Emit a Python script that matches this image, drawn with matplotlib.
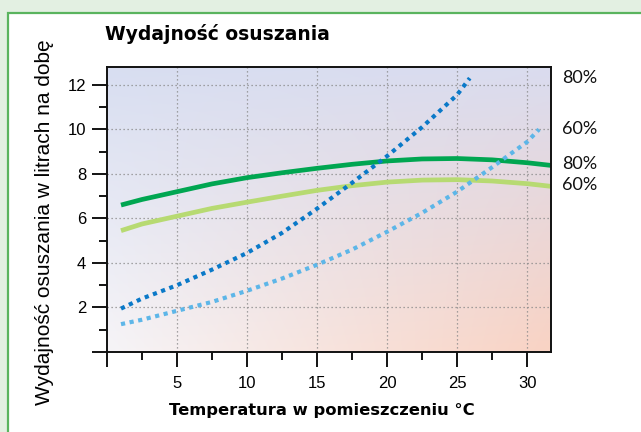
import numpy as np
import matplotlib
matplotlib.use("Agg")
import matplotlib.pyplot as plt
from matplotlib.patches import Rectangle

# ---- data ----
temp_a = [1, 2.5, 5, 7.5, 10, 12.5, 15, 17.5, 20, 22.5, 25, 27.5, 30, 31.7]
green80 = [6.6, 6.85, 7.2, 7.55, 7.83, 8.05, 8.25, 8.43, 8.58, 8.67, 8.69, 8.63, 8.5, 8.38]
green60 = [5.45, 5.75, 6.1, 6.45, 6.73, 7.0, 7.26, 7.47, 7.63, 7.72, 7.74, 7.68, 7.56, 7.44]

temp_b80 = [1, 2.5, 5, 7.5, 10, 12.5, 15, 17.5, 20, 22.5, 25, 25.9]
blue80 = [1.95, 2.4, 3.0, 3.7, 4.45, 5.35, 6.44, 7.6, 8.8, 10.1, 11.55, 12.3]

temp_b60 = [1, 2.5, 5, 7.5, 10, 12.5, 15, 17.5, 20, 22.5, 25, 27.5, 30, 30.85]
blue60 = [1.25, 1.45, 1.85, 2.25, 2.75, 3.3, 3.92, 4.6, 5.4, 6.25, 7.2, 8.3, 9.44, 10.0]

right_labels = ["80%", "60%", "80%", "60%"]
right_label_y = [12.31, 10.0, 8.43, 7.49]

x_ticks = [0, 5, 10, 15, 20, 25, 30]
x_ticklabels = ["", "5", "10", "15", "20", "25", "30"]
y_ticks = [0, 2, 4, 6, 8, 10, 12]
y_ticklabels = ["", "2", "4", "6", "8", "10", "12"]

title = "Wydajność osuszania"
xlabel = "Temperatura w pomieszczeniu °C"
ylabel = "Wydajność osuszania w litrach na dobę"

# ---- figure ----
W, H = 641, 432
fig = plt.figure(figsize=(W / 100, H / 100), dpi=100)
fig.patch.set_facecolor("#e3f0e2")
panel = Rectangle((7.5 / W, -0.05), 1.1, 1 - 12.5 / H + 0.05, transform=fig.transFigure,
                  facecolor="white", edgecolor="#5ab45e", lw=1.6, zorder=-5)
fig.patches.append(panel)

ax = fig.add_axes([107 / W, 1 - 352 / H, (551 - 107) / W, (352 - 67) / H])
ax.set_xlim(0, 31.7)
ax.set_ylim(0, 12.8)

# gradient background
n = 64
u = np.linspace(0, 1, n)[None, :, None]
v = np.linspace(0, 1, n)[:, None, None]  # 0 bottom -> 1 top
def c(h):
    h = h.lstrip("#")
    return np.array([int(h[i:i + 2], 16) for i in (0, 2, 4)]) / 255.0
TL, TR, BL, BR = c("#d8def1"), c("#dadcef"), c("#f6f4f7"), c("#f9d3c4")
img = (1 - v) * ((1 - u) * BL + u * BR) + v * ((1 - u) * TL + u * TR)
ax.imshow(img, extent=[0, 1, 0, 1], transform=ax.transAxes, origin="lower",
          aspect="auto", zorder=0, interpolation="bilinear")

# grid
for xv in x_ticks[1:]:
    ax.axvline(xv, color="#8a8a8a", lw=0.9, ls=(0, (1, 2.2)), zorder=1)
for yv in y_ticks[1:]:
    ax.axhline(yv, color="#8a8a8a", lw=0.9, ls=(0, (1, 2.2)), zorder=1)

# curves
ax.plot(temp_a, green80, color="#00a651", lw=3.4, solid_capstyle="butt", zorder=3)
ax.plot(temp_a, green60, color="#b7da72", lw=3.4, solid_capstyle="butt", zorder=3)
ax.plot(temp_b80, blue80, color="#0a79c8", lw=3.0, ls=(0, (1, 1.1)), zorder=4)
ax.plot(temp_b60, blue60, color="#5db6e8", lw=3.0, ls=(0, (1, 1.1)), zorder=4)

# right labels
for lab, yv in zip(right_labels, right_label_y):
    ax.annotate(lab, xy=(1.0, yv), xycoords=("axes fraction", "data"),
                xytext=(8, 0), textcoords="offset points", ha="left", va="center",
                fontsize=13, family="Lato", color="#111111", annotation_clip=False)

# ticks
ax.set_xticks(x_ticks)
ax.set_xticklabels(x_ticklabels)
ax.set_yticks(y_ticks)
ax.set_yticklabels(y_ticklabels)
ax.set_xticks([2.5, 7.5, 12.5, 17.5, 22.5, 27.5], minor=True)
ax.set_yticks([1, 3, 5, 7, 9, 11], minor=True)
ax.tick_params(which="major", direction="out", length=11, width=1.3, labelsize=12,
               pad=4, labelfontfamily="Liberation Sans")
ax.tick_params(which="minor", direction="out", length=5.5, width=1.3)
ax.tick_params(axis="x", which="major", pad=6)
for sp in ax.spines.values():
    sp.set_linewidth(1.4)
    sp.set_color("#111111")
    sp.set_zorder(5)

fig.text(105 / W, 1 - 34 / H, title, ha="left", va="center", fontsize=13.5,
         fontweight="bold", family="DejaVu Sans")
fig.text(322 / W, 1 - 410 / H, xlabel, ha="center", va="center", fontsize=11.8,
         fontweight="bold", family="DejaVu Sans")
fig.text(45 / W, 1 - 222 / H, ylabel, ha="center", va="center", rotation=90,
         fontsize=15, family="Liberation Sans")

fig.savefig("out.png", dpi=100, facecolor=fig.get_facecolor())
